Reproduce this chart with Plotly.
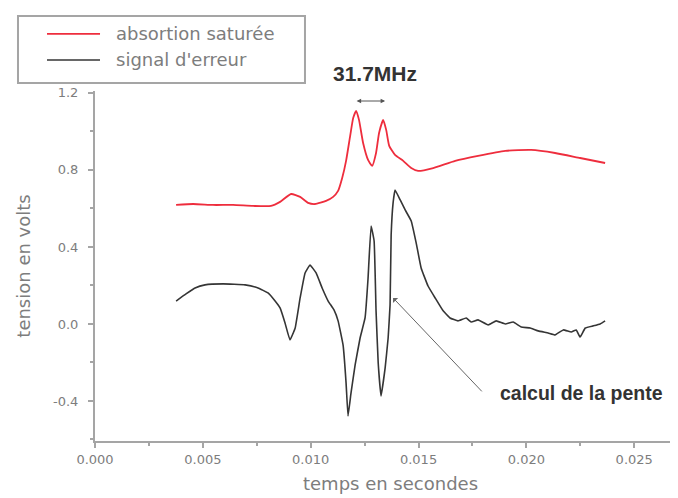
import plotly.graph_objects as go

# ---- data ----
abs_t = [0.00376, 0.00455, 0.00547, 0.00640, 0.00733, 0.00816, 0.00858, 0.00909, 0.00951, 0.00988,
         0.01020, 0.01071, 0.01104, 0.01127, 0.01146, 0.01164, 0.01183, 0.01197, 0.01211, 0.01224,
         0.01243, 0.01266, 0.01285, 0.01303, 0.01317, 0.01336, 0.01350, 0.01364, 0.01391, 0.01429,
         0.01466, 0.01498, 0.01568, 0.01670, 0.01776, 0.01902, 0.02022, 0.02133, 0.02249, 0.02365]
abs_v = [0.618, 0.623, 0.618, 0.618, 0.613, 0.613, 0.634, 0.675, 0.660, 0.629,
         0.623, 0.639, 0.660, 0.691, 0.758, 0.847, 0.977, 1.070, 1.107, 1.060,
         0.940, 0.852, 0.821, 0.888, 0.992, 1.060, 1.008, 0.925, 0.878, 0.847,
         0.810, 0.795, 0.810, 0.847, 0.873, 0.899, 0.904, 0.888, 0.862, 0.836]

err_t = [0.00376, 0.00422, 0.00464, 0.00510, 0.00594, 0.00696, 0.00756, 0.00802, 0.00835, 0.00858,
         0.00881, 0.00904, 0.00928, 0.00951, 0.00974, 0.00997, 0.01025, 0.01053, 0.01081, 0.01108,
         0.01127, 0.01150, 0.01164, 0.01173, 0.01187, 0.01206, 0.01229, 0.01252, 0.01266, 0.01280,
         0.01294, 0.01303, 0.01313, 0.01326, 0.01345, 0.01359, 0.01368, 0.01373, 0.01382, 0.01391,
         0.01415, 0.01438, 0.01466, 0.01489, 0.01512, 0.01544, 0.01577, 0.01614, 0.01646, 0.01683,
         0.01721, 0.01744, 0.01776, 0.01823, 0.01860, 0.01902, 0.01939, 0.01976, 0.02018, 0.02055,
         0.02101, 0.02133, 0.02171, 0.02208, 0.02231, 0.02249, 0.02273, 0.02310, 0.02342, 0.02365]
err_v = [0.119, 0.156, 0.187, 0.203, 0.208, 0.203, 0.187, 0.161, 0.119, 0.083,
         0.005, -0.083, -0.021, 0.135, 0.265, 0.306, 0.265, 0.187, 0.119, 0.073,
         0.016, -0.109, -0.306, -0.478, -0.358, -0.213, -0.073, 0.031, 0.239, 0.509,
         0.431, 0.068, -0.203, -0.374, -0.229, -0.073, 0.099, 0.462, 0.629, 0.696,
         0.644, 0.592, 0.535, 0.421, 0.291, 0.197, 0.135, 0.068, 0.031, 0.016,
         0.031, 0.010, 0.021, -0.005, 0.016, 0.000, 0.010, -0.016, -0.021, -0.036,
         -0.047, -0.057, -0.031, -0.042, -0.031, -0.068, -0.021, -0.010, 0.000, 0.016]

x_tickvals = [0.000, 0.005, 0.010, 0.015, 0.020, 0.025]
x_ticktext = ["0.000", "0.005", "0.010", "0.015", "0.020", "0.025"]
y_tickvals = [-0.4, 0.0, 0.4, 0.8, 1.2]
y_ticktext = ["-0.4", "0.0", "0.4", "0.8", "1.2"]

series_names = ["absortion saturée", "signal d'erreur"]
RED = "#ee2d3d"
DARK = "#353535"
AXIS = "#a5a5a5"
TXT = "#7d7d7d"
FONT = "DejaVu Sans, Verdana, sans-serif"
BOLD = "Liberation Sans, Arial, sans-serif"

fig = go.Figure()
fig.add_trace(go.Scatter(x=abs_t, y=abs_v, mode="lines", name=series_names[0],
                         line=dict(color=RED, width=1.8, shape="spline", smoothing=0.5), showlegend=False))
fig.add_trace(go.Scatter(x=err_t, y=err_v, mode="lines", name=series_names[1],
                         line=dict(color=DARK, width=1.6, shape="spline", smoothing=0.3), showlegend=False))

axis_common = dict(showgrid=False, zeroline=False, showline=True, linecolor=AXIS, linewidth=2,
                   ticks="outside", ticklen=5, tickwidth=1.5, tickcolor=AXIS,
                   tickfont=dict(family=FONT, size=13, color=TXT), mirror=False)

fig.update_xaxes(**axis_common, range=[0, 0.0274], tickvals=x_tickvals, ticktext=x_ticktext,
                 minor=dict(ticks="outside", ticklen=3, tickcolor=AXIS, dtick=0.0025, tick0=0, showgrid=False),
                 title=dict(text="temps en secondes", font=dict(family=FONT, size=18, color=TXT), standoff=12))
fig.update_yaxes(**axis_common, range=[-0.608, 1.21], tickvals=y_tickvals, ticktext=y_ticktext,
                 ticklabelstandoff=7,
                 minor=dict(ticks="outside", ticklen=3, tickcolor=AXIS, dtick=0.2, tick0=0, showgrid=False),
                 title=dict(text="tension en volts", font=dict(family=FONT, size=18, color=TXT), standoff=18))

# legend drawn as a framed box (paper coordinates)
shapes = [
    dict(type="rect", xref="paper", yref="paper", x0=-0.1303, x1=0.3553, y0=1.0229, y1=1.2143,
         line=dict(color=AXIS, width=2), fillcolor="white", layer="above"),
    dict(type="line", xref="paper", yref="paper", x0=-0.0812, x1=0.0085, y0=1.163, y1=1.163,
         line=dict(color=RED, width=1.8)),
    dict(type="line", xref="paper", yref="paper", x0=-0.0812, x1=0.0085, y0=1.0886, y1=1.0886,
         line=dict(color=DARK, width=1.6)),
]
annotations = [
    dict(xref="paper", yref="paper", x=0.0321, y=1.163, text=series_names[0], showarrow=False,
         xanchor="left", yanchor="middle", font=dict(family=FONT, size=18, color=TXT)),
    dict(xref="paper", yref="paper", x=0.0321, y=1.0886, text=series_names[1], showarrow=False,
         xanchor="left", yanchor="middle", font=dict(family=FONT, size=18, color=TXT)),
    # 31.7 MHz label and double arrow
    dict(x=0.01300, y=1.0514, xref="x", yref="paper", text="<b>31.7MHz</b>", showarrow=False,
         xanchor="center", yanchor="middle", font=dict(family=BOLD, size=21, color="#333333")),
    dict(x=0.01345, y=1.158, ax=0.01206, ay=1.158, xref="x", yref="y", axref="x", ayref="y",
         text="", showarrow=True, arrowhead=2, arrowside="end+start", arrowsize=0.9,
         arrowwidth=1, arrowcolor="#555555", standoff=0, startstandoff=0),
    # slope arrow
    dict(x=0.01382, y=0.135, ax=0.0180, ay=-0.358, xref="x", yref="y", axref="x", ayref="y",
         text="", showarrow=True, arrowhead=1, arrowsize=1.2, arrowwidth=1, arrowcolor="#666666"),
    dict(x=0.01870, y=-0.358, xref="x", yref="y", text="<b>calcul de la pente</b>", showarrow=False,
         xanchor="left", yanchor="middle", font=dict(family=BOLD, size=19.5, color="#333333")),
]

fig.update_layout(width=678, height=498, margin=dict(l=87, r=0, t=83, b=65),
                  paper_bgcolor="white", plot_bgcolor="white",
                  shapes=shapes, annotations=annotations, showlegend=False)

fig.write_html("out.html")
